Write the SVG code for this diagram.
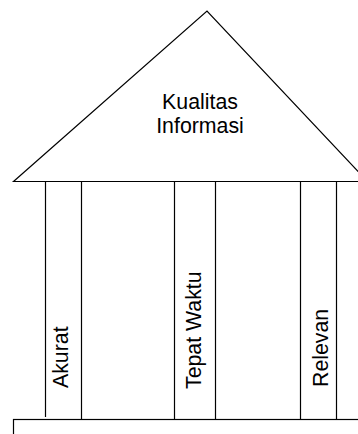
<svg xmlns="http://www.w3.org/2000/svg" width="358" height="434" viewBox="0 0 358 434">
<style>
.ln{stroke:#000;stroke-width:1.2;fill:none}
.sh{stroke:#000;stroke-width:1.2;fill:#fff}
.t{font-family:"Liberation Sans",Arial,sans-serif;font-size:21.3px;fill:#000}
</style>
<rect width="358" height="434" fill="#fff"/>
<g id="roof">
<polygon class="sh" points="13.5,181.5 207,11 367.5,181.5"/>
<text class="t" x="200" y="109" text-anchor="middle">Kualitas</text>
<text class="t" x="200" y="133" text-anchor="middle">Informasi</text>
</g>
<g id="pillar-akurat">
<line class="ln" x1="45.5" y1="181.5" x2="45.5" y2="417"/>
<line class="ln" x1="81.5" y1="181.5" x2="81.5" y2="419.5"/>
<text class="t" transform="translate(68,388) rotate(-90)">Akurat</text>
</g>
<g id="pillar-tepat-waktu">
<line class="ln" x1="174.5" y1="181.5" x2="174.5" y2="419.5"/>
<line class="ln" x1="215.5" y1="181.5" x2="215.5" y2="419.5"/>
<text class="t" transform="translate(201,389) rotate(-90)">Tepat Waktu</text>
</g>
<g id="pillar-relevan">
<line class="ln" x1="300.5" y1="181.5" x2="300.5" y2="419.5"/>
<line class="ln" x1="336.5" y1="181.5" x2="336.5" y2="419.5"/>
<text class="t" transform="translate(328,387) rotate(-90)">Relevan</text>
</g>
<g id="base">
<rect class="sh" x="13.5" y="419.5" width="360" height="40"/>
</g>
<g id="connectors"></g>
</svg>
